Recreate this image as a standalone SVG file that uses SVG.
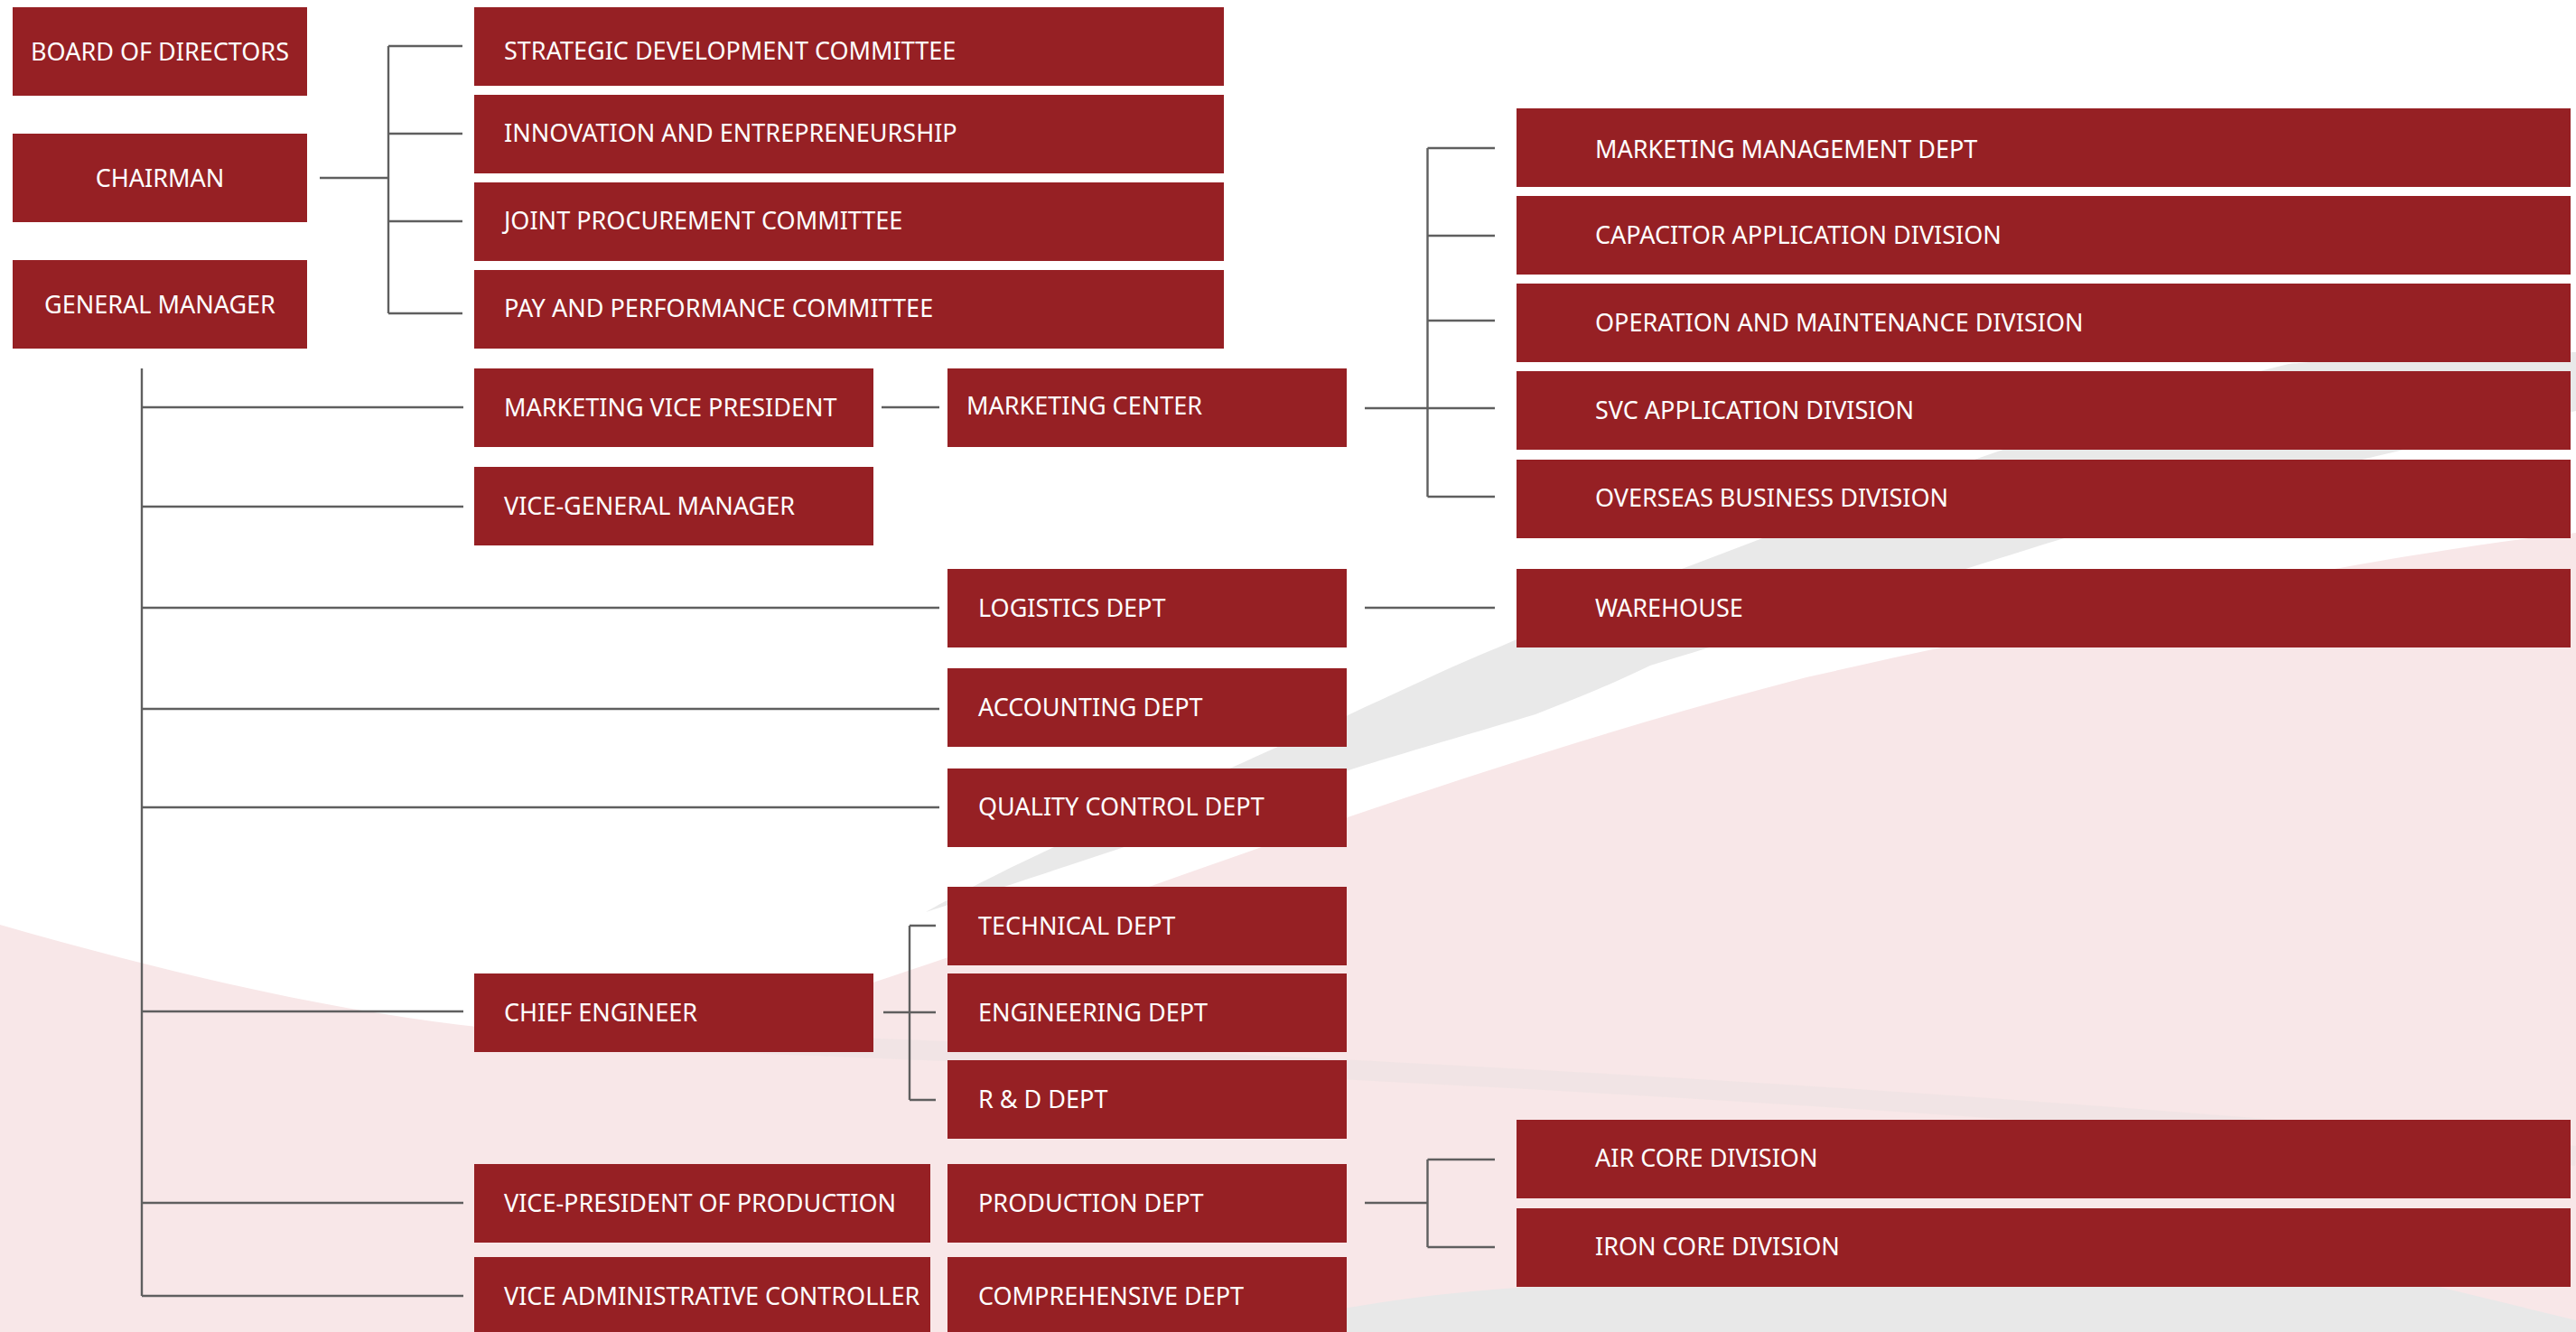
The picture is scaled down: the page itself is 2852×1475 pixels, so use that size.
<svg xmlns="http://www.w3.org/2000/svg" width="2852" height="1475" viewBox="0 0 2852 1475">
<style>
.box{fill:#962024}
.t{font-family:"Noto Sans","Liberation Sans",sans-serif;font-size:27px;fill:#ffffff}
.c{text-anchor:middle}
.ln{stroke:#5f5f5f;stroke-width:2.4;fill:none}
</style>
<g id="background">
<rect x="0" y="0" width="2852" height="1475" fill="#ffffff"/>
<path d="M0,1024 C300,1110 520,1150 760,1150 C1100,1060 1500,880 2000,750 C2400,660 2700,605 2852,590 L2852,1475 L0,1475 Z" fill="#f8e7e8"/>
<path d="M700,1150 C1200,1170 2000,1200 2852,1280" fill="none" stroke="#efe3e4" stroke-width="22" opacity="0.8"/>
<path d="M1025,1010 C1150,940 1300,880 1390,838 C1500,790 1600,740 1661,716 C1760,672 1820,648 1862,630 C2100,540 2300,460 2534,403 C2650,392 2760,390 2852,390 L2852,455 C2600,510 2400,560 2240,610 C2050,670 1930,705 1827,737 C1780,760 1740,775 1700,791 C1620,815 1560,832 1496,852 C1330,910 1150,970 1025,1010 Z" fill="#e9e9e9"/>
<path d="M1350,1475 C1450,1455 1560,1432 1700,1425 L2700,1425 L2852,1462 L2852,1475 Z" fill="#e8e8e8"/>
</g>
<g id="connectors">
<path class="ln" d="M354,197 H430 M430,51 V347 M430,51 H512 M430,148 H512 M430,245 H512 M430,347 H512"/>
<path class="ln" d="M157,408 V1435 M157,451 H513 M157,561 H513 M157,673 H1040 M157,785 H1040 M157,894 H1040 M157,1120 H513 M157,1332 H513 M157,1435 H513"/>
<path class="ln" d="M976,451 H1040"/>
<path class="ln" d="M1511,452 H1655 M1580.5,164 V550 M1580.5,164 H1655 M1580.5,261 H1655 M1580.5,355 H1655 M1580.5,550 H1655"/>
<path class="ln" d="M1511,673 H1655"/>
<path class="ln" d="M978,1121 H1036 M1007,1025 V1218 M1007,1025 H1036 M1007,1218 H1036"/>
<path class="ln" d="M1511,1332 H1580.5 M1580.5,1284 V1381 M1580.5,1284 H1655 M1580.5,1381 H1655"/>
</g>
<g id="board"><rect class="box" x="14" y="8" width="326" height="98"/><text class="t c" x="177" y="67">BOARD OF DIRECTORS</text></g>
<g id="chairman"><rect class="box" x="14" y="148" width="326" height="98"/><text class="t c" x="177" y="207">CHAIRMAN</text></g>
<g id="general-manager"><rect class="box" x="14" y="288" width="326" height="98"/><text class="t c" x="177" y="347">GENERAL MANAGER</text></g>
<g id="strategic"><rect class="box" x="525" y="8" width="830" height="87"/><text class="t" x="558" y="66">STRATEGIC DEVELOPMENT COMMITTEE</text></g>
<g id="innovation"><rect class="box" x="525" y="105" width="830" height="87"/><text class="t" x="558" y="157">INNOVATION AND ENTREPRENEURSHIP</text></g>
<g id="procurement"><rect class="box" x="525" y="202" width="830" height="87"/><text class="t" x="558" y="254">JOINT PROCUREMENT COMMITTEE</text></g>
<g id="pay"><rect class="box" x="525" y="299" width="830" height="87"/><text class="t" x="558" y="351">PAY AND PERFORMANCE COMMITTEE</text></g>
<g id="marketing-vp"><rect class="box" x="525" y="408" width="442" height="87"/><text class="t" x="558" y="461">MARKETING VICE PRESIDENT</text></g>
<g id="vice-gm"><rect class="box" x="525" y="517" width="442" height="87"/><text class="t" x="558" y="570">VICE-GENERAL MANAGER</text></g>
<g id="marketing-center"><rect class="box" x="1049" y="408" width="442" height="87"/><text class="t" x="1070" y="459">MARKETING CENTER</text></g>
<g id="logistics"><rect class="box" x="1049" y="630" width="442" height="87"/><text class="t" x="1083" y="683">LOGISTICS DEPT</text></g>
<g id="accounting"><rect class="box" x="1049" y="740" width="442" height="87"/><text class="t" x="1083" y="793">ACCOUNTING DEPT</text></g>
<g id="quality"><rect class="box" x="1049" y="851" width="442" height="87"/><text class="t" x="1083" y="903">QUALITY CONTROL DEPT</text></g>
<g id="technical"><rect class="box" x="1049" y="982" width="442" height="87"/><text class="t" x="1083" y="1035">TECHNICAL DEPT</text></g>
<g id="chief-engineer"><rect class="box" x="525" y="1078" width="442" height="87"/><text class="t" x="558" y="1131">CHIEF ENGINEER</text></g>
<g id="engineering"><rect class="box" x="1049" y="1078" width="442" height="87"/><text class="t" x="1083" y="1131">ENGINEERING DEPT</text></g>
<g id="rd"><rect class="box" x="1049" y="1174" width="442" height="87"/><text class="t" x="1083" y="1227">R &amp; D DEPT</text></g>
<g id="vp-production"><rect class="box" x="525" y="1289" width="505" height="87"/><text class="t" x="558" y="1342">VICE-PRESIDENT OF PRODUCTION</text></g>
<g id="production"><rect class="box" x="1049" y="1289" width="442" height="87"/><text class="t" x="1083" y="1342">PRODUCTION DEPT</text></g>
<g id="vice-admin"><rect class="box" x="525" y="1392" width="505" height="87"/><text class="t" x="558" y="1445">VICE ADMINISTRATIVE CONTROLLER</text></g>
<g id="comprehensive"><rect class="box" x="1049" y="1392" width="442" height="87"/><text class="t" x="1083" y="1445">COMPREHENSIVE DEPT</text></g>
<g id="marketing-mgmt"><rect class="box" x="1679" y="120" width="1167" height="87"/><text class="t" x="1766" y="175">MARKETING MANAGEMENT DEPT</text></g>
<g id="capacitor"><rect class="box" x="1679" y="217" width="1167" height="87"/><text class="t" x="1766" y="270">CAPACITOR APPLICATION DIVISION</text></g>
<g id="operation"><rect class="box" x="1679" y="314" width="1167" height="87"/><text class="t" x="1766" y="367">OPERATION AND MAINTENANCE DIVISION</text></g>
<g id="svc"><rect class="box" x="1679" y="411" width="1167" height="87"/><text class="t" x="1766" y="464">SVC APPLICATION DIVISION</text></g>
<g id="overseas"><rect class="box" x="1679" y="509" width="1167" height="87"/><text class="t" x="1766" y="561">OVERSEAS BUSINESS DIVISION</text></g>
<g id="warehouse"><rect class="box" x="1679" y="630" width="1167" height="87"/><text class="t" x="1766" y="683">WAREHOUSE</text></g>
<g id="air-core"><rect class="box" x="1679" y="1240" width="1167" height="87"/><text class="t" x="1766" y="1292">AIR CORE DIVISION</text></g>
<g id="iron-core"><rect class="box" x="1679" y="1338" width="1167" height="87"/><text class="t" x="1766" y="1390">IRON CORE DIVISION</text></g>
</svg>
